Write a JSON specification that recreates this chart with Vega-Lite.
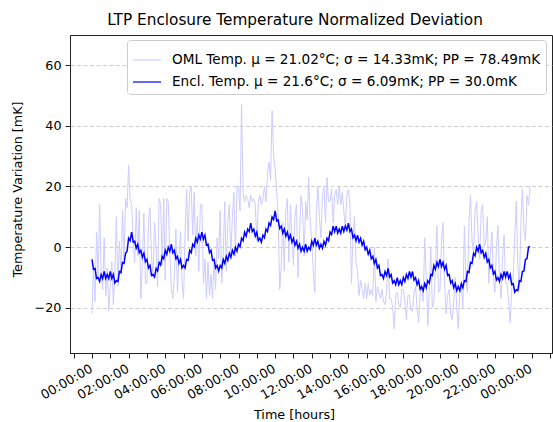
{
  "$schema": "https://vega.github.io/schema/vega-lite/v6.json",
  "autosize": {"type": "none"},
  "padding": {"left": 70, "top": 35, "right": 1, "bottom": 69},
  "width": 482,
  "height": 318,
  "background": "white",
  "config": {
    "font": "DejaVu Sans",
    "view": {"stroke": "#222222", "strokeWidth": 1},
    "axis": {
      "labelFont": "DejaVu Sans", "titleFont": "DejaVu Sans",
      "labelColor": "black", "titleColor": "black",
      "domainColor": "#222222", "tickColor": "#222222",
      "labelFontSize": 12.75, "titleFontSize": 12.75, "titleFontWeight": "normal",
      "tickSize": 5
    }
  },
  "title": {
    "text": "LTP Enclosure Temperature Normalized Deviation",
    "font": "DejaVu Sans", "fontSize": 15.3, "fontWeight": "normal", "color": "black",
    "anchor": "middle", "dx": -16, "offset": 7
  },
  "datasets": {
    "oml": [
      {"m":0,"v":-22},{"m":5,"v":-6},{"m":10,"v":-18},{"m":15,"v":5},{"m":20,"v":-10},{"m":25,"v":14},{"m":30,"v":-8},{"m":35,"v":-14},{"m":40,"v":3},{"m":45,"v":-16},{"m":50,"v":-7},{"m":55,"v":-21},
      {"m":60,"v":-12},{"m":65,"v":-5},{"m":70,"v":-19},{"m":75,"v":-8},{"m":80,"v":10},{"m":85,"v":-13},{"m":90,"v":2},{"m":95,"v":-9},{"m":100,"v":12},{"m":105,"v":-4},{"m":110,"v":16},{"m":115,"v":13},
      {"m":120,"v":27},{"m":125,"v":16},{"m":130,"v":14},{"m":135,"v":2},{"m":140,"v":-5},{"m":145,"v":13},{"m":150,"v":-3},{"m":155,"v":12},{"m":160,"v":-17},{"m":165,"v":-6},{"m":170,"v":11},{"m":175,"v":-12},
      {"m":180,"v":-12},{"m":185,"v":8},{"m":190,"v":13},{"m":195,"v":-3},{"m":200,"v":-10},{"m":205,"v":8},{"m":210,"v":0},{"m":215,"v":-13},{"m":220,"v":16},{"m":225,"v":14},{"m":230,"v":-6},{"m":235,"v":16},
      {"m":240,"v":-11},{"m":245,"v":16},{"m":250,"v":15},{"m":255,"v":-2},{"m":260,"v":-14},{"m":265,"v":-17},{"m":270,"v":-9},{"m":275,"v":6},{"m":280,"v":-15},{"m":285,"v":-3},{"m":290,"v":5},{"m":295,"v":-12},
      {"m":300,"v":-17},{"m":305,"v":5},{"m":310,"v":19},{"m":315,"v":2},{"m":320,"v":18},{"m":325,"v":20},{"m":330,"v":4},{"m":335,"v":18},{"m":340,"v":-3},{"m":345,"v":10},{"m":350,"v":-8},{"m":355,"v":14},
      {"m":360,"v":14},{"m":365,"v":-12},{"m":370,"v":-4},{"m":375,"v":-17},{"m":380,"v":-5},{"m":385,"v":-16},{"m":390,"v":-9},{"m":395,"v":-17},{"m":400,"v":-4},{"m":405,"v":-14},{"m":410,"v":3},{"m":415,"v":-4},
      {"m":420,"v":12},{"m":425,"v":-12},{"m":430,"v":-2},{"m":435,"v":15},{"m":440,"v":-8},{"m":445,"v":8},{"m":450,"v":14},{"m":455,"v":-3},{"m":460,"v":10},{"m":465,"v":18},{"m":470,"v":-3},{"m":475,"v":20},
      {"m":480,"v":20},{"m":485,"v":12},{"m":490,"v":47},{"m":495,"v":18},{"m":500,"v":15},{"m":505,"v":17},{"m":510,"v":16},{"m":515,"v":13},{"m":520,"v":17},{"m":525,"v":15},{"m":530,"v":16},{"m":535,"v":14},
      {"m":540,"v":2},{"m":545,"v":15},{"m":550,"v":17},{"m":555,"v":14},{"m":560,"v":16},{"m":565,"v":20},{"m":570,"v":15},{"m":575,"v":24},{"m":580,"v":28},{"m":585,"v":22},{"m":590,"v":45},{"m":595,"v":30},
      {"m":600,"v":26},{"m":605,"v":18},{"m":610,"v":10},{"m":615,"v":-14},{"m":620,"v":-6},{"m":625,"v":8},{"m":630,"v":-8},{"m":635,"v":12},{"m":640,"v":16},{"m":645,"v":-5},{"m":650,"v":14},{"m":655,"v":3},
      {"m":660,"v":-6},{"m":665,"v":10},{"m":670,"v":14},{"m":675,"v":-10},{"m":680,"v":5},{"m":685,"v":17},{"m":690,"v":12},{"m":695,"v":-3},{"m":700,"v":15},{"m":705,"v":9},{"m":710,"v":23},{"m":715,"v":8},
      {"m":720,"v":2},{"m":725,"v":-8},{"m":730,"v":-15},{"m":735,"v":12},{"m":740,"v":20},{"m":745,"v":10},{"m":750,"v":3},{"m":755,"v":17},{"m":760,"v":20},{"m":765,"v":8},{"m":770,"v":23},{"m":775,"v":15},
      {"m":780,"v":15},{"m":785,"v":19},{"m":790,"v":8},{"m":795,"v":17},{"m":800,"v":19},{"m":805,"v":14},{"m":810,"v":20},{"m":815,"v":14},{"m":820,"v":18},{"m":825,"v":12},{"m":830,"v":6},{"m":835,"v":17},
      {"m":840,"v":19},{"m":845,"v":14},{"m":850,"v":-12},{"m":855,"v":3},{"m":860,"v":10},{"m":865,"v":-5},{"m":870,"v":-8},{"m":875,"v":-16},{"m":880,"v":-11},{"m":885,"v":-14},{"m":890,"v":-17},{"m":895,"v":-12},
      {"m":900,"v":-17},{"m":905,"v":-12},{"m":910,"v":-16},{"m":915,"v":-14},{"m":920,"v":-16},{"m":925,"v":0},{"m":930,"v":-18},{"m":935,"v":-13},{"m":940,"v":-15},{"m":945,"v":-17},{"m":950,"v":-14},{"m":955,"v":-18},
      {"m":960,"v":-19},{"m":965,"v":-15},{"m":970,"v":-4},{"m":975,"v":-17},{"m":980,"v":-17},{"m":985,"v":-20},{"m":990,"v":-27},{"m":995,"v":-16},{"m":1000,"v":-15},{"m":1005,"v":-19},{"m":1010,"v":-20},{"m":1015,"v":-14},
      {"m":1020,"v":-14},{"m":1025,"v":-18},{"m":1030,"v":-24},{"m":1035,"v":-16},{"m":1040,"v":-16},{"m":1045,"v":-21},{"m":1050,"v":-21},{"m":1055,"v":-15},{"m":1060,"v":-13},{"m":1065,"v":-20},{"m":1070,"v":-25},{"m":1075,"v":-16},
      {"m":1080,"v":-12},{"m":1085,"v":-18},{"m":1090,"v":3},{"m":1095,"v":-10},{"m":1100,"v":-26},{"m":1105,"v":-14},{"m":1110,"v":0},{"m":1115,"v":-20},{"m":1120,"v":-18},{"m":1125,"v":-8},{"m":1130,"v":7},{"m":1135,"v":-15},
      {"m":1140,"v":-14},{"m":1145,"v":2},{"m":1150,"v":8},{"m":1155,"v":-12},{"m":1160,"v":-22},{"m":1165,"v":-16},{"m":1170,"v":-14},{"m":1175,"v":-22},{"m":1180,"v":-24},{"m":1185,"v":-18},{"m":1190,"v":-10},{"m":1195,"v":-20},
      {"m":1200,"v":-27},{"m":1205,"v":-15},{"m":1210,"v":-12},{"m":1215,"v":-20},{"m":1220,"v":7},{"m":1225,"v":-10},{"m":1230,"v":-15},{"m":1235,"v":8},{"m":1240,"v":17},{"m":1245,"v":2},{"m":1250,"v":-2},{"m":1255,"v":12},
      {"m":1260,"v":15},{"m":1265,"v":4},{"m":1270,"v":-4},{"m":1275,"v":12},{"m":1280,"v":14},{"m":1285,"v":0},{"m":1290,"v":2},{"m":1295,"v":10},{"m":1300,"v":-12},{"m":1305,"v":-2},{"m":1310,"v":5},{"m":1315,"v":-10},
      {"m":1320,"v":-15},{"m":1325,"v":0},{"m":1330,"v":7},{"m":1335,"v":-10},{"m":1340,"v":-17},{"m":1345,"v":-4},{"m":1350,"v":4},{"m":1355,"v":-12},{"m":1360,"v":-12},{"m":1365,"v":-18},{"m":1370,"v":-25},{"m":1375,"v":-14},
      {"m":1380,"v":-10},{"m":1385,"v":4},{"m":1390,"v":15},{"m":1395,"v":-6},{"m":1400,"v":-14},{"m":1405,"v":8},{"m":1410,"v":19},{"m":1415,"v":6},{"m":1420,"v":2},{"m":1425,"v":17},{"m":1430,"v":14},{"m":1435,"v":20}
    ],
    "encl": [
      {"m":0,"v":-4.1},{"m":5,"v":-7.4},{"m":10,"v":-7.1},{"m":15,"v":-10.4},{"m":20,"v":-10.1},{"m":25,"v":-11.4},{"m":30,"v":-9.1},{"m":35,"v":-10.4},{"m":40,"v":-8.1},{"m":45,"v":-10.4},{"m":50,"v":-9.1},{"m":55,"v":-10.4},
      {"m":60,"v":-8.1},{"m":65,"v":-10.4},{"m":70,"v":-9.1},{"m":75,"v":-11.9},{"m":80,"v":-11.1},{"m":85,"v":-11.4},{"m":90,"v":-8.1},{"m":95,"v":-8.4},{"m":100,"v":-5.1},{"m":105,"v":-5.4},{"m":110,"v":-2.1},{"m":115,"v":-1.4},
      {"m":120,"v":2.9},{"m":125,"v":2.1},{"m":130,"v":4.9},{"m":135,"v":1.6},{"m":140,"v":1.9},{"m":145,"v":-0.4},{"m":150,"v":0.9},{"m":155,"v":-1.9},{"m":160,"v":-1.1},{"m":165,"v":-3.4},{"m":170,"v":-2.1},{"m":175,"v":-4.9},
      {"m":180,"v":-4.1},{"m":185,"v":-6.9},{"m":190,"v":-6.1},{"m":195,"v":-9.4},{"m":200,"v":-9.1},{"m":205,"v":-9.9},{"m":210,"v":-7.1},{"m":215,"v":-7.9},{"m":220,"v":-5.1},{"m":225,"v":-5.9},{"m":230,"v":-3.1},{"m":235,"v":-3.9},
      {"m":240,"v":-1.1},{"m":245,"v":-2.4},{"m":250,"v":-0.1},{"m":255,"v":-1.4},{"m":260,"v":0.9},{"m":265,"v":-1.9},{"m":270,"v":-1.1},{"m":275,"v":-3.9},{"m":280,"v":-3.1},{"m":285,"v":-5.4},{"m":290,"v":-4.1},{"m":295,"v":-6.9},
      {"m":300,"v":-6.1},{"m":305,"v":-6.9},{"m":310,"v":-4.1},{"m":315,"v":-4.4},{"m":320,"v":-1.1},{"m":325,"v":-1.9},{"m":330,"v":0.9},{"m":335,"v":0.1},{"m":340,"v":2.9},{"m":345,"v":1.6},{"m":350,"v":3.9},{"m":355,"v":2.6},
      {"m":360,"v":4.9},{"m":365,"v":2.6},{"m":370,"v":3.9},{"m":375,"v":0.6},{"m":380,"v":0.9},{"m":385,"v":-1.9},{"m":390,"v":-1.1},{"m":395,"v":-4.4},{"m":400,"v":-4.1},{"m":405,"v":-6.9},{"m":410,"v":-6.1},{"m":415,"v":-7.9},
      {"m":420,"v":-6.1},{"m":425,"v":-6.9},{"m":430,"v":-4.1},{"m":435,"v":-5.4},{"m":440,"v":-3.1},{"m":445,"v":-4.4},{"m":450,"v":-2.1},{"m":455,"v":-3.4},{"m":460,"v":-1.1},{"m":465,"v":-2.4},{"m":470,"v":-0.1},{"m":475,"v":-1.4},
      {"m":480,"v":0.9},{"m":485,"v":0.1},{"m":490,"v":2.9},{"m":495,"v":2.1},{"m":500,"v":4.9},{"m":505,"v":3.6},{"m":510,"v":5.9},{"m":515,"v":5.1},{"m":520,"v":7.9},{"m":525,"v":5.1},{"m":530,"v":5.9},{"m":535,"v":3.6},
      {"m":540,"v":4.9},{"m":545,"v":2.1},{"m":550,"v":2.9},{"m":555,"v":1.6},{"m":560,"v":3.9},{"m":565,"v":3.1},{"m":570,"v":5.9},{"m":575,"v":5.1},{"m":580,"v":7.9},{"m":585,"v":7.1},{"m":590,"v":9.9},{"m":595,"v":9.1},
      {"m":600,"v":11.9},{"m":605,"v":8.6},{"m":610,"v":8.9},{"m":615,"v":6.1},{"m":620,"v":6.9},{"m":625,"v":4.6},{"m":630,"v":5.9},{"m":635,"v":3.6},{"m":640,"v":4.9},{"m":645,"v":2.6},{"m":650,"v":3.9},{"m":655,"v":1.6},
      {"m":660,"v":2.9},{"m":665,"v":0.6},{"m":670,"v":1.9},{"m":675,"v":-0.4},{"m":680,"v":0.9},{"m":685,"v":-1.4},{"m":690,"v":-0.1},{"m":695,"v":-1.4},{"m":700,"v":0.9},{"m":705,"v":-1.4},{"m":710,"v":-0.1},{"m":715,"v":-0.9},
      {"m":720,"v":1.9},{"m":725,"v":0.6},{"m":730,"v":2.9},{"m":735,"v":0.6},{"m":740,"v":1.9},{"m":745,"v":-0.4},{"m":750,"v":0.9},{"m":755,"v":-0.4},{"m":760,"v":1.9},{"m":765,"v":0.6},{"m":770,"v":2.9},{"m":775,"v":2.1},
      {"m":780,"v":4.9},{"m":785,"v":4.1},{"m":790,"v":6.9},{"m":795,"v":5.1},{"m":800,"v":6.9},{"m":805,"v":4.6},{"m":810,"v":5.9},{"m":815,"v":4.6},{"m":820,"v":6.9},{"m":825,"v":5.1},{"m":830,"v":6.9},{"m":835,"v":5.6},
      {"m":840,"v":7.9},{"m":845,"v":5.1},{"m":850,"v":5.9},{"m":855,"v":3.1},{"m":860,"v":3.9},{"m":865,"v":2.1},{"m":870,"v":3.9},{"m":875,"v":1.6},{"m":880,"v":2.9},{"m":885,"v":0.6},{"m":890,"v":1.9},{"m":895,"v":-0.9},
      {"m":900,"v":-0.1},{"m":905,"v":-2.4},{"m":910,"v":-1.1},{"m":915,"v":-3.9},{"m":920,"v":-3.1},{"m":925,"v":-5.4},{"m":930,"v":-4.1},{"m":935,"v":-6.9},{"m":940,"v":-6.1},{"m":945,"v":-9.4},{"m":950,"v":-9.1},{"m":955,"v":-10.4},
      {"m":960,"v":-8.1},{"m":965,"v":-9.4},{"m":970,"v":-7.1},{"m":975,"v":-9.9},{"m":980,"v":-9.1},{"m":985,"v":-11.9},{"m":990,"v":-11.1},{"m":995,"v":-12.4},{"m":1000,"v":-10.1},{"m":1005,"v":-12.4},{"m":1010,"v":-11.1},{"m":1015,"v":-12.4},
      {"m":1020,"v":-10.1},{"m":1025,"v":-11.4},{"m":1030,"v":-9.1},{"m":1035,"v":-10.4},{"m":1040,"v":-8.1},{"m":1045,"v":-9.9},{"m":1050,"v":-8.1},{"m":1055,"v":-10.9},{"m":1060,"v":-10.1},{"m":1065,"v":-12.4},{"m":1070,"v":-11.1},{"m":1075,"v":-13.9},
      {"m":1080,"v":-13.1},{"m":1085,"v":-14.4},{"m":1090,"v":-12.1},{"m":1095,"v":-13.4},{"m":1100,"v":-11.1},{"m":1105,"v":-11.9},{"m":1110,"v":-9.1},{"m":1115,"v":-9.4},{"m":1120,"v":-6.1},{"m":1125,"v":-7.4},{"m":1130,"v":-5.1},{"m":1135,"v":-6.4},
      {"m":1140,"v":-4.1},{"m":1145,"v":-6.4},{"m":1150,"v":-5.1},{"m":1155,"v":-7.4},{"m":1160,"v":-6.1},{"m":1165,"v":-9.4},{"m":1170,"v":-9.1},{"m":1175,"v":-11.9},{"m":1180,"v":-11.1},{"m":1185,"v":-13.4},{"m":1190,"v":-12.1},{"m":1195,"v":-14.4},
      {"m":1200,"v":-13.1},{"m":1205,"v":-14.4},{"m":1210,"v":-12.1},{"m":1215,"v":-13.4},{"m":1220,"v":-11.1},{"m":1225,"v":-11.4},{"m":1230,"v":-8.1},{"m":1235,"v":-8.4},{"m":1240,"v":-5.1},{"m":1245,"v":-5.4},{"m":1250,"v":-2.1},{"m":1255,"v":-2.9},
      {"m":1260,"v":-0.1},{"m":1265,"v":-1.4},{"m":1270,"v":0.9},{"m":1275,"v":-1.9},{"m":1280,"v":-1.1},{"m":1285,"v":-3.4},{"m":1290,"v":-2.1},{"m":1295,"v":-4.9},{"m":1300,"v":-4.1},{"m":1305,"v":-6.9},{"m":1310,"v":-6.1},{"m":1315,"v":-8.9},
      {"m":1320,"v":-8.1},{"m":1325,"v":-10.9},{"m":1330,"v":-10.1},{"m":1335,"v":-11.4},{"m":1340,"v":-9.1},{"m":1345,"v":-10.4},{"m":1350,"v":-8.1},{"m":1355,"v":-9.9},{"m":1360,"v":-8.1},{"m":1365,"v":-10.4},{"m":1370,"v":-9.1},{"m":1375,"v":-12.4},
      {"m":1380,"v":-12.1},{"m":1385,"v":-14.9},{"m":1390,"v":-14.1},{"m":1395,"v":-14.4},{"m":1400,"v":-11.1},{"m":1405,"v":-11.4},{"m":1410,"v":-8.1},{"m":1415,"v":-7.9},{"m":1420,"v":-4.1},{"m":1425,"v":-3.9},{"m":1430,"v":-0.1},{"m":1435,"v":0.2}
    ]
  },
  "encoding": {
    "x": {
      "field": "m", "type": "quantitative",
      "scale": {"domain": [-72, 1507], "nice": false, "zero": false},
      "axis": {
        "title": "Time [hours]",
        "values": [-60,0,60,120,180,240,300,360,420,480,540,600,660,720,780,840,900,960,1020,1080,1140,1200,1260,1320,1380,1440,1500],
        "labelExpr": "(datum.value % 120 == 0 && datum.value >= 0) ? ((floor(datum.value / 60) % 24 < 10 ? '0' : '') + (floor(datum.value / 60) % 24) + ':00:00') : ''",
        "labelAngle": -30, "labelAlign": "right", "labelBaseline": "top",
        "labelPadding": 4, "labelOffset": -4, "labelOverlap": false, "labelFlush": false,
        "grid": false,
        "titleX": 224, "titleY": 65, "titleAlign": "center", "titleBaseline": "alphabetic"
      }
    },
    "y": {
      "field": "v", "type": "quantitative",
      "scale": {"domain": [-35, 70], "nice": false, "zero": false},
      "axis": {
        "title": "Temperature Variation [mK]",
        "values": [-20, 0, 20, 40, 60],
        "grid": true, "gridDash": [4, 2.5], "gridColor": "#b0b0b0", "gridOpacity": 0.8, "gridWidth": 0.8,
        "labelPadding": 4,
        "titleX": -53, "titleY": 154, "titleAngle": -90, "titleAlign": "center", "titleBaseline": "middle"
      }
    }
  },
  "layer": [
    {
      "data": {"name": "oml"},
      "mark": {"type": "line", "strokeWidth": 1},
      "encoding": {
        "color": {
          "datum": "OML Temp. μ = 21.02°C; σ = 14.33mK; PP = 78.49mK",
          "type": "nominal",
          "scale": {
            "domain": ["OML Temp. μ = 21.02°C; σ = 14.33mK; PP = 78.49mK", "Encl. Temp. μ = 21.6°C; σ = 6.09mK; PP = 30.0mK"],
            "range": ["#ccccff", "#0000ff"]
          },
          "legend": {
            "title": null, "orient": "none", "legendX": 57, "legendY": 5,
            "fillColor": "white", "strokeColor": "#cccccc", "cornerRadius": 3, "padding": 5,
            "symbolType": "stroke", "symbolSize": 784, "symbolStrokeWidth": 1.2,
            "labelFont": "DejaVu Sans", "labelFontSize": 13.6, "labelColor": "black",
            "labelOffset": 10, "rowPadding": -5, "labelLimit": 500
          }
        }
      }
    },
    {
      "data": {"name": "encl"},
      "mark": {"type": "line", "strokeWidth": 1.5},
      "encoding": {
        "color": {"datum": "Encl. Temp. μ = 21.6°C; σ = 6.09mK; PP = 30.0mK", "type": "nominal"}
      }
    }
  ]
}
